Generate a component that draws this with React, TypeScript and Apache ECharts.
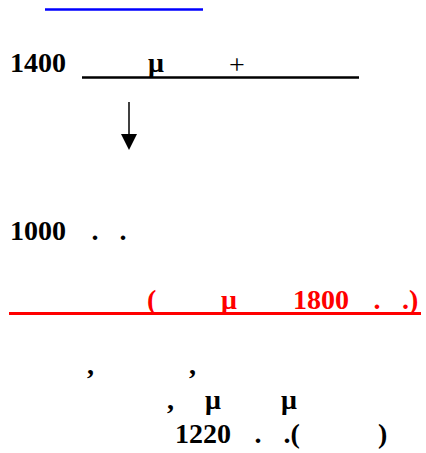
import React, { useEffect, useRef } from "react";
import * as echarts from "echarts";

// Amounts shown in the document fragment
const amounts = [1400, 1000, 1800, 1220];
// Visible symbols (the remaining glyphs are missing in the source)
const muSign = "μ";
const plusSign = "+";
const dotSign = ".";
const commaSign = ",";

const SIZE = 28;
const CENTRAL = 0.3375 * SIZE; // baseline offset from central line

function txt(text: string, x: number, baseline: number, fill = "#000", weight = "bold") {
  return {
    type: "text",
    x,
    y: baseline - CENTRAL,
    silent: true,
    style: {
      text,
      fill,
      fontFamily: "Liberation Serif",
      fontSize: SIZE,
      fontWeight: weight,
      align: "left",
      verticalAlign: "middle",
    },
  };
}

export default function App() {
  const ref = useRef<HTMLDivElement>(null);
  useEffect(() => {
    document.body.style.margin = "0";
    if (!ref.current) return;
    const chart = echarts.init(ref.current, undefined, { renderer: "svg" });
    const red = "#ff0000";
    chart.setOption({
      animation: false,
      backgroundColor: "#ffffff",
      graphic: [
        // blue underline at top
        { type: "line", shape: { x1: 45, y1: 9.5, x2: 203, y2: 9.5 }, style: { stroke: "#0000ff", lineWidth: 2.5 } },
        // row 1400
        txt(String(amounts[0]), 10, 72),
        txt(muSign, 148, 72),
        txt(plusSign, 229, 73.5, "#000", "normal"),
        { type: "line", shape: { x1: 82, y1: 77.5, x2: 359, y2: 77.5 }, style: { stroke: "#000", lineWidth: 2.5 } },
        // arrow
        { type: "line", shape: { x1: 129, y1: 102, x2: 129, y2: 136 }, style: { stroke: "#000", lineWidth: 1.5 } },
        { type: "polygon", shape: { points: [[121, 134], [137, 134], [129, 150]] }, style: { fill: "#000" } },
        // row 1000
        txt(String(amounts[1]), 10, 240),
        txt(dotSign, 91.5, 240),
        txt(dotSign, 119.5, 240),
        // red row
        txt("(", 147, 309, red),
        txt(muSign, 221, 309, red),
        txt(String(amounts[2]), 293, 309, red),
        txt(dotSign, 373.5, 309, red),
        txt(dotSign + ")", 402, 309, red),
        { type: "line", shape: { x1: 9, y1: 313.5, x2: 421, y2: 313.5 }, style: { stroke: red, lineWidth: 3 } },
        // bottom rows
        txt(commaSign, 87, 374),
        txt(commaSign, 189, 374),
        txt(commaSign, 167, 409),
        txt(muSign, 205, 409),
        txt(muSign, 281, 409),
        txt(String(amounts[3]), 175, 443),
        txt(dotSign, 254.5, 443),
        txt(dotSign + "(", 283.5, 443),
        txt(")", 378, 443),
      ],
    });
    return () => chart.dispose();
  }, []);
  return <div ref={ref} style={{ width: 426, height: 453 }} />;
}
